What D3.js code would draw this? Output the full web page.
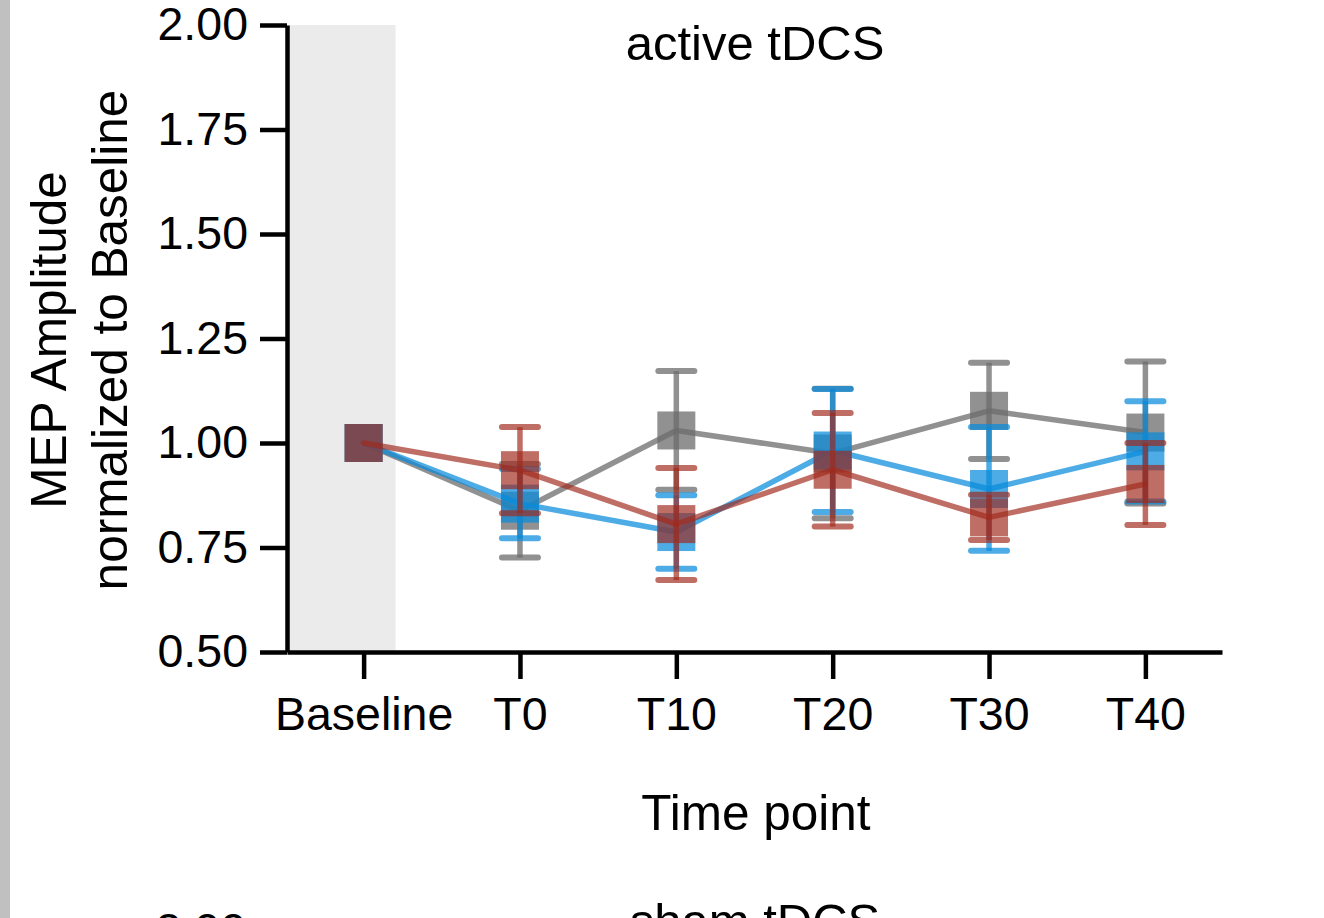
<!DOCTYPE html>
<html>
<head>
<meta charset="utf-8">
<script src="https://cdn.jsdelivr.net/npm/d3@7"></script>
<style>
  html, body { margin: 0; padding: 0; background: #fff; }
  svg { display: block; font-family: "Liberation Sans", Arial, Helvetica, sans-serif; }
</style>
</head>
<body>
<div id="chart"></div>
<script>
// time points and y ticks
const timePoints = ["Baseline", "T0", "T10", "T20", "T30", "T40"]
const yTicks = [0.50, 0.75, 1.00, 1.25, 1.50, 1.75, 2.00]

// normalized MEP amplitude (mean and error) per group
const grayMean = [1.00, 0.838, 1.030, 0.975, 1.077, 1.025]
const grayErr  = [0, 0.112, 0.142, 0.155, 0.115, 0.170]
const blueMean = [1.00, 0.855, 0.787, 0.982, 0.890, 0.980]
const blueErr  = [0, 0.083, 0.088, 0.147, 0.148, 0.120]
const redMean  = [1.00, 0.935, 0.806, 0.936, 0.822, 0.902]
const redErr   = [0, 0.103, 0.134, 0.136, 0.054, 0.098]

const W = 1324, H = 918

const svg = d3.select("#chart").append("svg")
    .attr("width", W)
    .attr("height", H)

// grey frame strip on the left edge
svg.append("rect")
    .attr("x", 0).attr("y", 0)
    .attr("width", 10).attr("height", H)
    .attr("fill", "#c0c0c0")

// scales
const x = d3.scalePoint()
    .domain(timePoints)
    .range([287, 1222])
    .padding(0.49)

const y = d3.scaleLinear()
    .domain([0.5, 2.0])
    .range([652, 25])

// shaded baseline column
svg.append("rect")
    .attr("x", x.range()[0] + 2)
    .attr("y", y(2.0))
    .attr("width", x("Baseline") + 32 - x.range()[0] - 2)
    .attr("height", y(0.5) - y(2.0))
    .attr("fill", "#ebebeb")

// title
svg.append("text")
    .attr("x", 755).attr("y", 60)
    .attr("text-anchor", "middle")
    .attr("font-size", 49)
    .text("active tDCS")

// x axis
const xAxis = svg.append("g")
    .attr("transform", `translate(0,${y(0.5)})`)
    .call(d3.axisBottom(x).tickSize(27).tickSizeOuter(0).tickPadding(18))
xAxis.select(".domain").attr("stroke-width", 4.5).attr("stroke", "#000")
xAxis.selectAll(".tick line").attr("stroke-width", 4.5).attr("stroke", "#000")
xAxis.selectAll(".tick text")
    .attr("font-size", 46.5)
    .attr("fill", "#000")
    .attr("font-family", "Liberation Sans, Arial, sans-serif")

// y axis
const yAxis = svg.append("g")
    .attr("transform", `translate(${x.range()[0]},0)`)
    .call(d3.axisLeft(y).tickValues(yTicks).tickFormat(d3.format(".2f"))
        .tickSize(27).tickSizeOuter(0).tickPadding(12))
yAxis.select(".domain").attr("stroke-width", 4.5).attr("stroke", "#000")
yAxis.selectAll(".tick line").attr("stroke-width", 4.5).attr("stroke", "#000")
yAxis.selectAll(".tick text")
    .attr("font-size", 46.5)
    .attr("fill", "#000")
    .attr("font-family", "Liberation Sans, Arial, sans-serif")

// axis titles
svg.append("text")
    .attr("x", 756).attr("y", 830)
    .attr("text-anchor", "middle")
    .attr("font-size", 49.5)
    .text("Time point")

svg.append("text")
    .attr("transform", "translate(66,340) rotate(-90)")
    .attr("text-anchor", "middle")
    .attr("font-size", 49.5)
    .text("MEP Amplitude")
svg.append("text")
    .attr("transform", "translate(127,340) rotate(-90)")
    .attr("text-anchor", "middle")
    .attr("font-size", 49.5)
    .text("normalized to Baseline")

// the three groups, drawn back to front
const groups = [
    { mean: grayMean, err: grayErr, color: "#6c6c6c", op: 0.75 },
    { mean: blueMean, err: blueErr, color: "#088bdb", op: 0.72 },
    { mean: redMean,  err: redErr,  color: "#a02a1c", op: 0.68 }
]

const sq = 38, cap = 42

const line = d3.line()
    .x((d, i) => x(timePoints[i]))
    .y(d => y(d))

groups.forEach(g => {
    const data = g.mean.map((m, i) => ({ t: timePoints[i], m: m, e: g.err[i] }))
    const grp = svg.append("g")

    // squares
    grp.selectAll("rect.pt")
        .data(data)
        .join("rect")
        .attr("class", "pt")
        .attr("x", d => x(d.t) - sq / 2)
        .attr("y", d => y(d.m) - sq / 2)
        .attr("width", sq)
        .attr("height", sq)
        .attr("fill", g.color)
        .attr("fill-opacity", g.op)

    // error bars
    const eb = data.filter(d => d.e > 0)
    grp.selectAll("line.stem")
        .data(eb)
        .join("line")
        .attr("x1", d => x(d.t)).attr("x2", d => x(d.t))
        .attr("y1", d => y(d.m + d.e)).attr("y2", d => y(d.m - d.e))
        .attr("stroke", g.color)
        .attr("stroke-opacity", g.op)
        .attr("stroke-width", 5.5)
    grp.selectAll("line.capHi")
        .data(eb)
        .join("line")
        .attr("x1", d => x(d.t) - cap / 2 + 3).attr("x2", d => x(d.t) + cap / 2 - 3)
        .attr("y1", d => y(d.m + d.e)).attr("y2", d => y(d.m + d.e))
        .attr("stroke", g.color)
        .attr("stroke-opacity", g.op)
        .attr("stroke-width", 6)
        .attr("stroke-linecap", "round")
    grp.selectAll("line.capLo")
        .data(eb)
        .join("line")
        .attr("x1", d => x(d.t) - cap / 2 + 3).attr("x2", d => x(d.t) + cap / 2 - 3)
        .attr("y1", d => y(d.m - d.e)).attr("y2", d => y(d.m - d.e))
        .attr("stroke", g.color)
        .attr("stroke-opacity", g.op)
        .attr("stroke-width", 6)
        .attr("stroke-linecap", "round")

    // connecting line
    grp.append("path")
        .datum(g.mean)
        .attr("fill", "none")
        .attr("stroke", g.color)
        .attr("stroke-opacity", g.op)
        .attr("stroke-width", 5.5)
        .attr("stroke-linecap", "round")
        .attr("stroke-linejoin", "round")
        .attr("d", line)
})

// top of the next panel, cut off by the window as in the source image
svg.append("text")
    .attr("x", 755).attr("y", 938)
    .attr("text-anchor", "middle")
    .attr("font-size", 49)
    .text("sham tDCS")
svg.append("text")
    .attr("x", 246).attr("y", 946)
    .attr("text-anchor", "end")
    .attr("font-size", 46.5)
    .text("2.00")
</script>
</body>
</html>
